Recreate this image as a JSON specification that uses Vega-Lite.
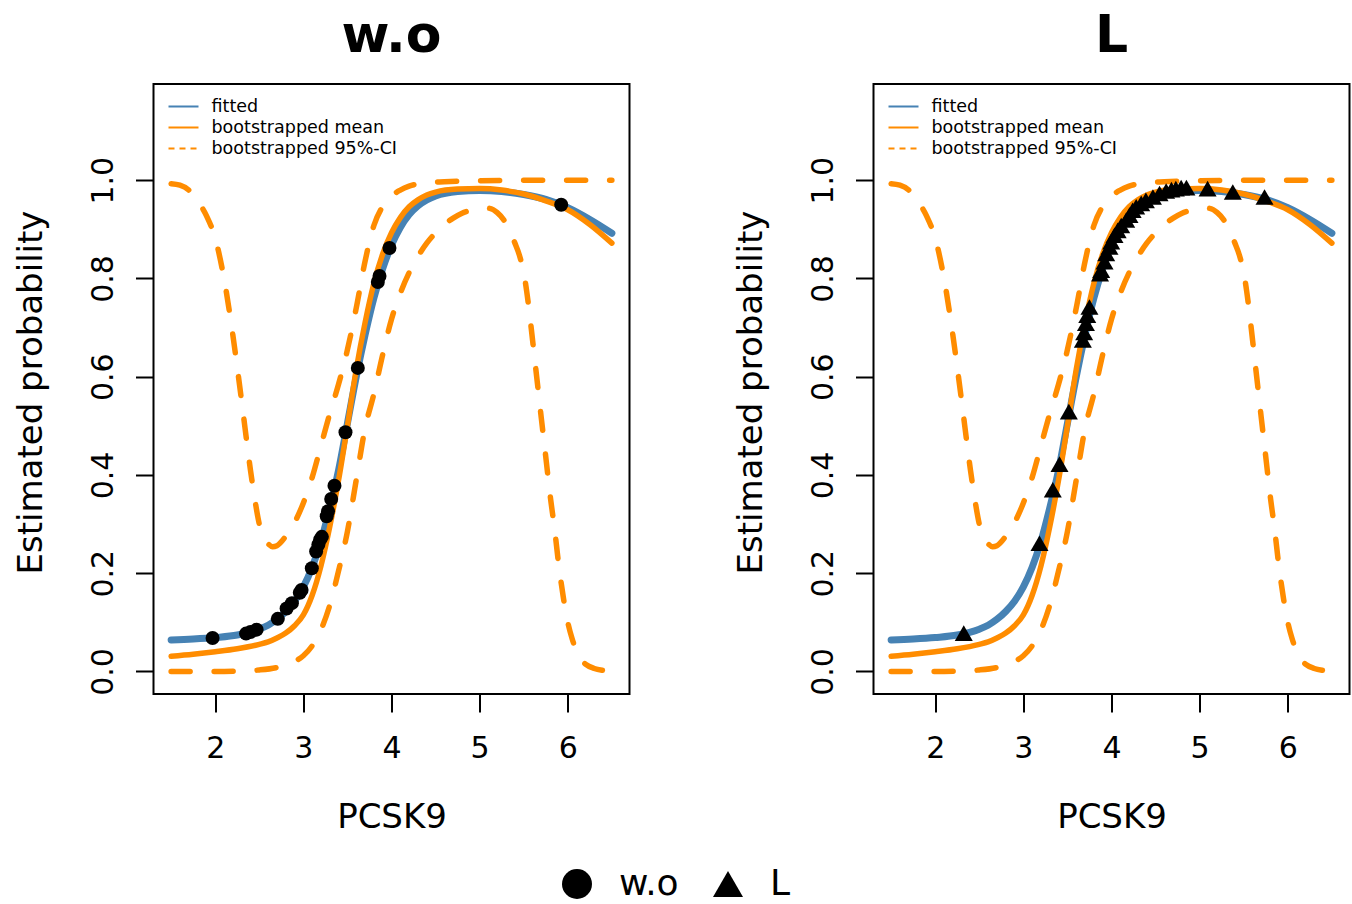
{
  "$schema": "https://vega.github.io/schema/vega-lite/v6.json",
  "background": "white",
  "padding": {"left": 13.5, "top": 9, "right": 0, "bottom": 0},
  "bounds": "flush",
  "spacing": 244,
  "datasets": {
    "fitted": [
      {"x":1.5,"y":0.064},{"x":1.75,"y":0.066},{"x":2.0,"y":0.069},{"x":2.25,"y":0.074},{"x":2.5,"y":0.086},{"x":2.6,"y":0.094},{"x":2.7,"y":0.106},{"x":2.8,"y":0.122},{"x":2.9,"y":0.143},{"x":3.0,"y":0.172},{"x":3.1,"y":0.212},{"x":3.2,"y":0.265},{"x":3.3,"y":0.333},{"x":3.4,"y":0.41},{"x":3.5,"y":0.505},{"x":3.6,"y":0.6},{"x":3.7,"y":0.685},{"x":3.8,"y":0.76},{"x":3.9,"y":0.82},{"x":4.0,"y":0.868},{"x":4.1,"y":0.904},{"x":4.2,"y":0.93},{"x":4.3,"y":0.948},{"x":4.4,"y":0.96},{"x":4.5,"y":0.968},{"x":4.75,"y":0.977},{"x":5.0,"y":0.979},{"x":5.25,"y":0.977},{"x":5.5,"y":0.971},{"x":5.75,"y":0.961},{"x":6.0,"y":0.944},{"x":6.25,"y":0.92},{"x":6.5,"y":0.892}
    ],
    "mean": [
      {"x":1.5,"y":0.031},{"x":1.75,"y":0.035},{"x":2.0,"y":0.04},{"x":2.25,"y":0.046},{"x":2.5,"y":0.055},{"x":2.6,"y":0.06},{"x":2.7,"y":0.068},{"x":2.8,"y":0.078},{"x":2.9,"y":0.093},{"x":3.0,"y":0.115},{"x":3.1,"y":0.155},{"x":3.2,"y":0.215},{"x":3.3,"y":0.295},{"x":3.4,"y":0.39},{"x":3.5,"y":0.5},{"x":3.6,"y":0.615},{"x":3.7,"y":0.71},{"x":3.8,"y":0.79},{"x":3.9,"y":0.85},{"x":4.0,"y":0.893},{"x":4.1,"y":0.924},{"x":4.2,"y":0.946},{"x":4.3,"y":0.96},{"x":4.4,"y":0.97},{"x":4.5,"y":0.976},{"x":4.75,"y":0.982},{"x":5.0,"y":0.983},{"x":5.25,"y":0.98},{"x":5.5,"y":0.972},{"x":5.75,"y":0.958},{"x":6.0,"y":0.94},{"x":6.25,"y":0.91},{"x":6.5,"y":0.872}
    ],
    "ci": [
      {"curve":"upper","x":1.5,"y":0.993},{"curve":"upper","x":1.6,"y":0.99},{"curve":"upper","x":1.7,"y":0.98},{"curve":"upper","x":1.8,"y":0.958},{"curve":"upper","x":1.9,"y":0.928},{"curve":"upper","x":2.0,"y":0.882},{"curve":"upper","x":2.1,"y":0.8},{"curve":"upper","x":2.2,"y":0.685},{"curve":"upper","x":2.3,"y":0.55},{"curve":"upper","x":2.4,"y":0.41},{"curve":"upper","x":2.45,"y":0.35},{"curve":"upper","x":2.5,"y":0.3},{"curve":"upper","x":2.55,"y":0.272},{"curve":"upper","x":2.6,"y":0.26},{"curve":"upper","x":2.65,"y":0.254},{"curve":"upper","x":2.7,"y":0.256},{"curve":"upper","x":2.8,"y":0.275},{"curve":"upper","x":2.9,"y":0.303},{"curve":"upper","x":3.0,"y":0.343},{"curve":"upper","x":3.1,"y":0.395},{"curve":"upper","x":3.2,"y":0.46},{"curve":"upper","x":3.3,"y":0.525},{"curve":"upper","x":3.4,"y":0.585},{"curve":"upper","x":3.5,"y":0.655},{"curve":"upper","x":3.6,"y":0.74},{"curve":"upper","x":3.7,"y":0.835},{"curve":"upper","x":3.8,"y":0.908},{"curve":"upper","x":3.9,"y":0.947},{"curve":"upper","x":4.0,"y":0.968},{"curve":"upper","x":4.1,"y":0.98},{"curve":"upper","x":4.2,"y":0.988},{"curve":"upper","x":4.4,"y":0.995},{"curve":"upper","x":4.6,"y":0.997},{"curve":"upper","x":5.0,"y":0.999},{"curve":"upper","x":5.5,"y":1.0},{"curve":"upper","x":6.0,"y":1.0},{"curve":"upper","x":6.5,"y":1.0},
      {"curve":"lower","x":1.5,"y":0.0},{"curve":"lower","x":2.0,"y":0.0},{"curve":"lower","x":2.3,"y":0.001},{"curve":"lower","x":2.5,"y":0.003},{"curve":"lower","x":2.7,"y":0.008},{"curve":"lower","x":2.8,"y":0.013},{"curve":"lower","x":2.9,"y":0.02},{"curve":"lower","x":3.0,"y":0.032},{"curve":"lower","x":3.1,"y":0.052},{"curve":"lower","x":3.2,"y":0.085},{"curve":"lower","x":3.3,"y":0.135},{"curve":"lower","x":3.4,"y":0.205},{"curve":"lower","x":3.5,"y":0.285},{"curve":"lower","x":3.6,"y":0.39},{"curve":"lower","x":3.7,"y":0.495},{"curve":"lower","x":3.8,"y":0.565},{"curve":"lower","x":3.9,"y":0.645},{"curve":"lower","x":4.0,"y":0.717},{"curve":"lower","x":4.1,"y":0.77},{"curve":"lower","x":4.2,"y":0.812},{"curve":"lower","x":4.3,"y":0.845},{"curve":"lower","x":4.4,"y":0.872},{"curve":"lower","x":4.5,"y":0.893},{"curve":"lower","x":4.6,"y":0.91},{"curve":"lower","x":4.7,"y":0.923},{"curve":"lower","x":4.8,"y":0.933},{"curve":"lower","x":4.9,"y":0.939},{"curve":"lower","x":5.0,"y":0.943},{"curve":"lower","x":5.1,"y":0.943},{"curve":"lower","x":5.2,"y":0.934},{"curve":"lower","x":5.3,"y":0.912},{"curve":"lower","x":5.4,"y":0.872},{"curve":"lower","x":5.45,"y":0.848},{"curve":"lower","x":5.5,"y":0.812},{"curve":"lower","x":5.55,"y":0.752},{"curve":"lower","x":5.6,"y":0.675},{"curve":"lower","x":5.65,"y":0.595},{"curve":"lower","x":5.7,"y":0.515},{"curve":"lower","x":5.75,"y":0.437},{"curve":"lower","x":5.8,"y":0.358},{"curve":"lower","x":5.85,"y":0.29},{"curve":"lower","x":5.9,"y":0.213},{"curve":"lower","x":5.95,"y":0.15},{"curve":"lower","x":6.0,"y":0.1},{"curve":"lower","x":6.05,"y":0.066},{"curve":"lower","x":6.1,"y":0.041},{"curve":"lower","x":6.15,"y":0.024},{"curve":"lower","x":6.2,"y":0.015},{"curve":"lower","x":6.3,"y":0.006},{"curve":"lower","x":6.4,"y":0.002},{"curve":"lower","x":6.5,"y":0.0}
    ],
    "pts_wo": [
      {"x":1.97,"y":0.068,"group":"w.o"},{"x":2.35,"y":0.077,"group":"w.o"},{"x":2.4,"y":0.08,"group":"w.o"},{"x":2.47,"y":0.085,"group":"w.o"},{"x":2.71,"y":0.107,"group":"w.o"},{"x":2.81,"y":0.128,"group":"w.o"},{"x":2.87,"y":0.139,"group":"w.o"},{"x":2.96,"y":0.16,"group":"w.o"},{"x":2.98,"y":0.166,"group":"w.o"},{"x":3.096,"y":0.21,"group":"w.o"},{"x":3.145,"y":0.244,"group":"w.o"},{"x":3.17,"y":0.258,"group":"w.o"},{"x":3.19,"y":0.268,"group":"w.o"},{"x":3.21,"y":0.274,"group":"w.o"},{"x":3.265,"y":0.316,"group":"w.o"},{"x":3.28,"y":0.326,"group":"w.o"},{"x":3.316,"y":0.351,"group":"w.o"},{"x":3.353,"y":0.378,"group":"w.o"},{"x":3.478,"y":0.487,"group":"w.o"},{"x":3.618,"y":0.618,"group":"w.o"},{"x":3.845,"y":0.793,"group":"w.o"},{"x":3.864,"y":0.805,"group":"w.o"},{"x":3.977,"y":0.862,"group":"w.o"},{"x":5.925,"y":0.95,"group":"w.o"}
    ],
    "pts_L": [
      {"x":2.324,"y":0.078,"group":"L"},{"x":3.183,"y":0.261,"group":"L"},{"x":3.334,"y":0.37,"group":"L"},{"x":3.41,"y":0.422,"group":"L"},{"x":3.516,"y":0.529,"group":"L"},{"x":3.675,"y":0.675,"group":"L"},{"x":3.69,"y":0.69,"group":"L"},{"x":3.71,"y":0.709,"group":"L"},{"x":3.725,"y":0.725,"group":"L"},{"x":3.75,"y":0.742,"group":"L"},{"x":3.87,"y":0.81,"group":"L"},{"x":3.883,"y":0.817,"group":"L"},{"x":3.921,"y":0.834,"group":"L"},{"x":3.94,"y":0.851,"group":"L"},{"x":3.977,"y":0.864,"group":"L"},{"x":3.997,"y":0.875,"group":"L"},{"x":4.034,"y":0.888,"group":"L"},{"x":4.07,"y":0.898,"group":"L"},{"x":4.11,"y":0.908,"group":"L"},{"x":4.167,"y":0.919,"group":"L"},{"x":4.204,"y":0.929,"group":"L"},{"x":4.24,"y":0.939,"group":"L"},{"x":4.28,"y":0.946,"group":"L"},{"x":4.337,"y":0.953,"group":"L"},{"x":4.39,"y":0.959,"group":"L"},{"x":4.47,"y":0.966,"group":"L"},{"x":4.545,"y":0.973,"group":"L"},{"x":4.62,"y":0.978,"group":"L"},{"x":4.68,"y":0.981,"group":"L"},{"x":4.73,"y":0.983,"group":"L"},{"x":4.79,"y":0.985,"group":"L"},{"x":4.85,"y":0.985,"group":"L"},{"x":5.09,"y":0.983,"group":"L"},{"x":5.376,"y":0.976,"group":"L"},{"x":5.736,"y":0.966,"group":"L"}
    ]
  },
  "resolve": {"scale": {"color": "independent"}, "legend": {"color": "independent", "shape": "shared"}},
  "hconcat": [
    {
      "width": 476, "height": 610,
      "title": {"text": "w.o", "fontSize": 52, "fontWeight": "bold", "offset": 21},
      "encoding": {
        "x": {"field": "x", "type": "quantitative", "scale": {"domain": [1.3, 6.7], "nice": false, "zero": false},
          "axis": {"values": [2,3,4,5,6], "title": "PCSK9", "titleX": 238, "titleY": 133, "titleBaseline": "alphabetic", "titleAlign": "center", "labelPadding": 21}},
        "y": {"field": "y", "type": "quantitative", "scale": {"domain": [-0.046, 1.196], "nice": false, "zero": false},
          "axis": {"values": [0,0.2,0.4,0.6,0.8,1.0], "format": ".1f", "title": "Estimated probability", "titleAngle": -90, "titleX": -112, "titleY": 308, "titleBaseline": "alphabetic", "titleAlign": "center", "labelAngle": -90, "labelAlign": "center", "labelBaseline": "alphabetic", "labelPadding": 23}}
      },
      "layer": [
        {"data": {"name": "fitted"}, "mark": {"type": "line", "strokeWidth": 7, "interpolate": "monotone", "strokeCap": "round"},
          "encoding": {"color": {"datum": "fitted", "type": "nominal",
            "scale": {"domain": ["fitted", "bootstrapped mean", "bootstrapped 95%-CI"], "range": ["#4682B4", "#FF8C00", "#FF8C00"]},
            "legend": {"orient": "none", "legendX": 14, "legendY": 13, "title": null, "symbolType": "stroke", "symbolSize": 900, "symbolStrokeWidth": 2, "labelFontSize": 17.5, "labelOffset": 12, "labelLimit": 600, "clipHeight": 19, "rowPadding": 2,
              "encode": {"symbols": {"update": {"strokeDash": {"signal": "datum.value === 'bootstrapped 95%-CI' ? [6,5] : [1,0]"}}}}}}}},
        {"data": {"name": "mean"}, "mark": {"type": "line", "strokeWidth": 5.5, "interpolate": "monotone", "strokeCap": "round"},
          "encoding": {"color": {"datum": "bootstrapped mean", "type": "nominal"}}},
        {"data": {"name": "ci"}, "mark": {"type": "line", "strokeWidth": 5.5, "interpolate": "monotone", "strokeCap": "round", "strokeDash": [19, 24]},
          "encoding": {"color": {"datum": "bootstrapped 95%-CI", "type": "nominal"}, "detail": {"field": "curve"}}},
        {"data": {"name": "pts_wo"}, "mark": {"type": "point", "filled": true, "fill": "black", "opacity": 1, "strokeWidth": 0},
          "encoding": {"size": {"value": 196},
            "shape": {"field": "group", "type": "nominal",
              "scale": {"domain": ["w.o", "L"], "range": ["circle", "triangle-up"]},
              "legend": {"orient": "none", "legendX": 405.5, "legendY": 782, "direction": "horizontal", "title": null, "labelFontSize": 36, "labelOffset": 24, "columnPadding": 31, "symbolSize": 900, "symbolFillColor": "black", "symbolStrokeWidth": 0,
                "encode": {"symbols": {"update": {"size": {"signal": "datum.value === 'L' ? 1100 : 740"}, "fill": {"value": "black"}, "opacity": {"value": 1}}}}}}}}
      ]
    },
    {
      "width": 476, "height": 610,
      "title": {"text": "L", "fontSize": 52, "fontWeight": "bold", "offset": 21},
      "encoding": {
        "x": {"field": "x", "type": "quantitative", "scale": {"domain": [1.3, 6.7], "nice": false, "zero": false},
          "axis": {"values": [2,3,4,5,6], "title": "PCSK9", "titleX": 238, "titleY": 133, "titleBaseline": "alphabetic", "titleAlign": "center", "labelPadding": 21}},
        "y": {"field": "y", "type": "quantitative", "scale": {"domain": [-0.046, 1.196], "nice": false, "zero": false},
          "axis": {"values": [0,0.2,0.4,0.6,0.8,1.0], "format": ".1f", "title": "Estimated probability", "titleAngle": -90, "titleX": -112, "titleY": 308, "titleBaseline": "alphabetic", "titleAlign": "center", "labelAngle": -90, "labelAlign": "center", "labelBaseline": "alphabetic", "labelPadding": 23}}
      },
      "layer": [
        {"data": {"name": "fitted"}, "mark": {"type": "line", "strokeWidth": 7, "interpolate": "monotone", "strokeCap": "round"},
          "encoding": {"color": {"datum": "fitted", "type": "nominal",
            "scale": {"domain": ["fitted", "bootstrapped mean", "bootstrapped 95%-CI"], "range": ["#4682B4", "#FF8C00", "#FF8C00"]},
            "legend": {"orient": "none", "legendX": 14, "legendY": 13, "title": null, "symbolType": "stroke", "symbolSize": 900, "symbolStrokeWidth": 2, "labelFontSize": 17.5, "labelOffset": 12, "labelLimit": 600, "clipHeight": 19, "rowPadding": 2,
              "encode": {"symbols": {"update": {"strokeDash": {"signal": "datum.value === 'bootstrapped 95%-CI' ? [6,5] : [1,0]"}}}}}}}},
        {"data": {"name": "mean"}, "mark": {"type": "line", "strokeWidth": 5.5, "interpolate": "monotone", "strokeCap": "round"},
          "encoding": {"color": {"datum": "bootstrapped mean", "type": "nominal"}}},
        {"data": {"name": "ci"}, "mark": {"type": "line", "strokeWidth": 5.5, "interpolate": "monotone", "strokeCap": "round", "strokeDash": [19, 24]},
          "encoding": {"color": {"datum": "bootstrapped 95%-CI", "type": "nominal"}, "detail": {"field": "curve"}}},
        {"data": {"name": "pts_L"}, "mark": {"type": "point", "filled": true, "fill": "black", "opacity": 1, "strokeWidth": 0},
          "encoding": {"size": {"value": 324},
            "shape": {"field": "group", "type": "nominal",
              "legend": {"orient": "none", "legendX": 405.5, "legendY": 782, "direction": "horizontal", "title": null, "labelFontSize": 36, "labelOffset": 24, "columnPadding": 31, "symbolSize": 900, "symbolFillColor": "black", "symbolStrokeWidth": 0,
                "encode": {"symbols": {"update": {"size": {"signal": "datum.value === 'L' ? 1100 : 740"}, "fill": {"value": "black"}, "opacity": {"value": 1}}}}}}}}
      ]
    }
  ],
  "config": {
    "font": "DejaVu Sans",
    "view": {"stroke": "black", "strokeWidth": 2},
    "axis": {"domain": false, "grid": false, "ticks": true, "tickSize": 18, "tickWidth": 2, "tickColor": "black",
      "labelFontSize": 30, "labelColor": "black", "titleFontSize": 34, "titleFontWeight": "normal", "titleColor": "black", "labelFlush": false, "labelOverlap": false},
    "title": {"color": "black", "anchor": "middle"},
    "legend": {"labelColor": "black", "labelFont": "DejaVu Sans"}
  }
}
